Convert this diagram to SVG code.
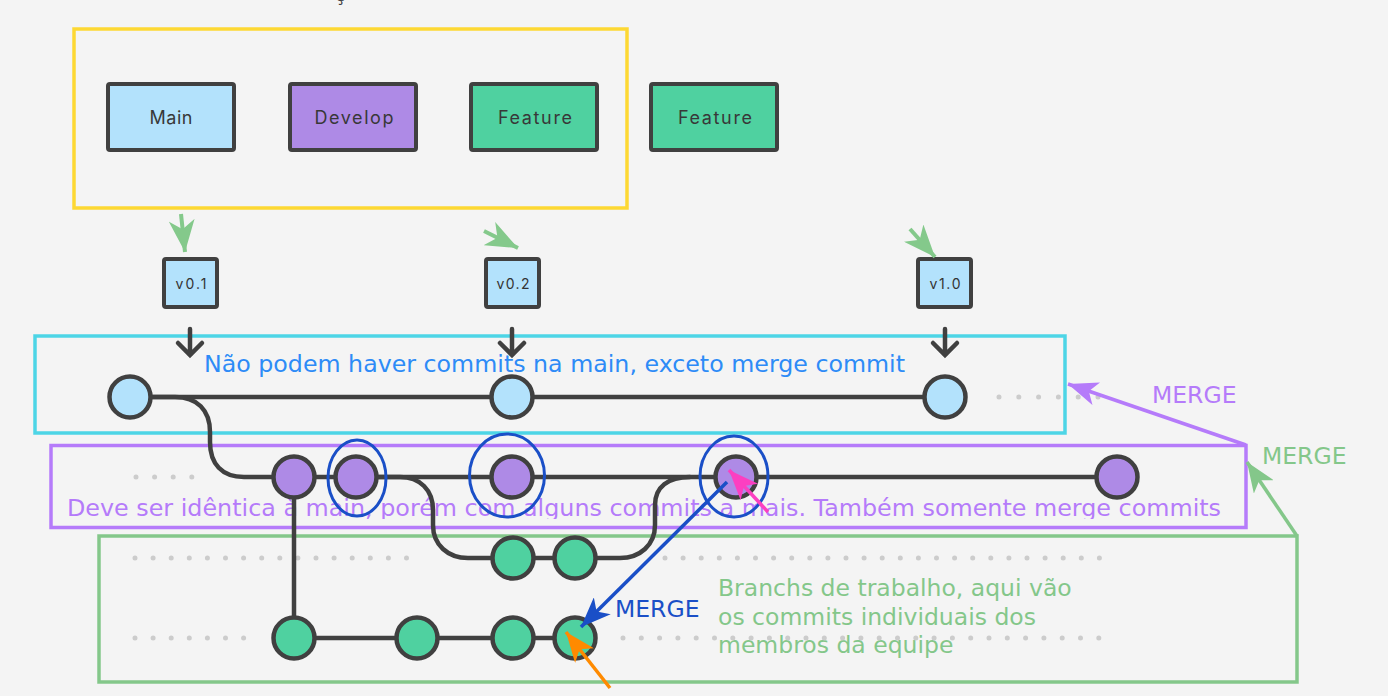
<svg xmlns="http://www.w3.org/2000/svg" width="1388" height="696" viewBox="0 0 1388 696">
<defs>
<style>
.bg{fill:#f4f4f4}
.frame{fill:none;stroke-width:3.5}
.br{stroke:#404040;stroke-width:4;}
.lbl{font-family:Inter,"Noto Sans","Liberation Sans",sans-serif;font-size:18px;fill:#383838;text-anchor:middle}
.ver{font-family:Inter,"Noto Sans","Liberation Sans",sans-serif;font-size:14px;fill:#333;text-anchor:middle}
.note{font-family:"DejaVu Sans",Verdana,sans-serif;font-size:23.5px}
.edge{fill:none;stroke:#404040;stroke-width:4.5;stroke-linecap:round}
.node{stroke:#404040;stroke-width:4.5}
.m{fill:#b3e2fc}.d{fill:#ae8ae6}.f{fill:#4fd1a0}
.dots{stroke:#cccccc;stroke-width:5;stroke-linecap:round;stroke-dasharray:0 18.1}
.ring{fill:none;stroke:#1a4fc7;stroke-width:3}
</style>
<marker id="hP" viewBox="0 0 30 24" refX="30" refY="12" markerWidth="30" markerHeight="24" markerUnits="userSpaceOnUse" orient="auto"><path d="M0,0 L30,12 L0,24 L8,12 Z" fill="#b57bfa"/></marker>
<marker id="hG" viewBox="0 0 30 24" refX="30" refY="12" markerWidth="30" markerHeight="24" markerUnits="userSpaceOnUse" orient="auto"><path d="M0,0 L30,12 L0,24 L8,12 Z" fill="#84c78a"/></marker>
<marker id="hB" viewBox="0 0 30 24" refX="30" refY="12" markerWidth="30" markerHeight="24" markerUnits="userSpaceOnUse" orient="auto"><path d="M0,0 L30,12 L0,24 L8,12 Z" fill="#1a4fc7"/></marker>
<marker id="hK" viewBox="0 0 30 24" refX="30" refY="12" markerWidth="30" markerHeight="24" markerUnits="userSpaceOnUse" orient="auto"><path d="M0,0 L30,12 L0,24 L8,12 Z" fill="#fc3fc1"/></marker>
<marker id="hO" viewBox="0 0 30 24" refX="30" refY="12" markerWidth="30" markerHeight="24" markerUnits="userSpaceOnUse" orient="auto"><path d="M0,0 L30,12 L0,24 L8,12 Z" fill="#ff8a00"/></marker>
<marker id="hV" viewBox="0 0 32 26" refX="32" refY="13" markerWidth="32" markerHeight="26" markerUnits="userSpaceOnUse" orient="auto"><path d="M0,0 L32,13 L0,26 L9,13 Z" fill="#84c98b"/></marker>
<clipPath id="clipC"><rect x="0" y="0" width="1388" height="377"/></clipPath>
<clipPath id="clipP"><rect x="0" y="0" width="1388" height="519"/></clipPath>
</defs>
<rect class="bg" x="0" y="0" width="1388" height="696"/>
<text x="340" y="1" font-family="'DejaVu Sans',sans-serif" font-size="18" fill="#404040" text-anchor="middle">ç</text>

<g id="branch-legend">
<rect class="frame" x="74" y="29" width="553" height="179" stroke="#fdd833"/>
<g id="legend-main"><rect class="br m" x="108" y="84" width="126" height="66" rx="2"/><text class="lbl" x="171" y="124" textLength="43" lengthAdjust="spacing">Main</text></g>
<g id="legend-develop"><rect class="br d" x="290" y="84" width="126" height="66" rx="2"/><text class="lbl" x="354" y="124" textLength="79" lengthAdjust="spacing">Develop</text></g>
<g id="legend-feature"><rect class="br f" x="471" y="84" width="126" height="66" rx="2"/><text class="lbl" x="535" y="124" textLength="74" lengthAdjust="spacing">Feature</text></g>
</g>
<g id="legend-feature2"><rect class="br f" x="651" y="84" width="126" height="66" rx="2"/><text class="lbl" x="715" y="124" textLength="74" lengthAdjust="spacing">Feature</text></g>

<g id="tags">
<g id="tag-v01"><rect class="br m" x="164" y="259" width="53" height="48" rx="2"/><text class="ver" x="191" y="289" textLength="31" lengthAdjust="spacing">v0.1</text></g>
<g id="tag-v02"><rect class="br m" x="486" y="259" width="53" height="48" rx="2"/><text class="ver" x="513" y="289" textLength="33" lengthAdjust="spacing">v0.2</text></g>
<g id="tag-v10"><rect class="br m" x="918" y="259" width="53" height="48" rx="2"/><text class="ver" x="945" y="289" textLength="31" lengthAdjust="spacing">v1.0</text></g>
</g>

<g id="zone-main">
<rect class="frame" x="35" y="336" width="1030" height="97" stroke="#4dd5e6"/>
<text class="note" x="204" y="372" fill="#2d8bf7" textLength="701" lengthAdjust="spacingAndGlyphs" clip-path="url(#clipC)">Não podem haver commits na main, exceto merge commit</text>
</g>
<g id="zone-develop">
<rect class="frame" x="51" y="445.5" width="1195" height="82" stroke="#b57bfa"/>
<text class="note" x="67" y="516" fill="#b57bfa" textLength="1154" lengthAdjust="spacingAndGlyphs" clip-path="url(#clipP)">Deve ser idêntica à main, porém com alguns commits a mais. Também somente merge commits</text>
</g>
<g id="zone-feature">
<rect class="frame" x="99" y="536" width="1198" height="146" stroke="#84c78a"/>
<text class="note" fill="#84c78a"><tspan x="718" y="596">Branchs de trabalho, aqui vão</tspan><tspan x="718" y="625">os commits individuais dos</tspan><tspan x="718" y="653">membros da equipe</tspan></text>
</g>

<g id="dotted">
<line class="dots" x1="999" y1="397" x2="1100" y2="397" style="stroke-dasharray:0 19.8"/>
<line class="dots" x1="136" y1="477" x2="193" y2="477" style="stroke-dasharray:0 18.6"/>
<line class="dots" x1="135" y1="558" x2="424" y2="558"/>
<line class="dots" x1="665" y1="558" x2="1100" y2="558"/>
<line class="dots" x1="135" y1="638" x2="244" y2="638"/>
<line class="dots" x1="623" y1="638" x2="1100" y2="638" style="stroke-dasharray:0 18.3"/>
</g>

<g id="connectors">
<line class="edge" x1="130" y1="397" x2="945" y2="397"/>
<path class="edge" d="M150,397 H175 C197,397 210,410 210,432 V442 C210,464 222,477 244,477 H294"/>
<line class="edge" x1="294" y1="477" x2="1117" y2="477"/>
<line class="edge" x1="294" y1="477" x2="294" y2="638"/>
<path class="edge" d="M378,477 H400 C420,477 433,490 433,510 V525 C433,545 448,558 468,558 H491"/>
<line class="edge" x1="513" y1="558" x2="575" y2="558"/>
<path class="edge" d="M597,558 H620 C640,558 655,545 655,525 V505 C655,487 668,477 690,477"/>
<line class="edge" x1="294" y1="638" x2="575" y2="638"/>
<path class="edge" d="M190,329 V355 M178,343 L190,355 L202,343"/>
<path class="edge" d="M512,329 V355 M500,343 L512,355 L524,343"/>
<path class="edge" d="M945,329 V355 M933,343 L945,355 L957,343"/>
<line x1="181" y1="214" x2="185" y2="252" stroke="#84c98b" stroke-width="4" marker-end="url(#hV)"/>
<line x1="484" y1="231" x2="518" y2="248" stroke="#84c98b" stroke-width="4" marker-end="url(#hV)"/>
<line x1="910" y1="229" x2="935" y2="257" stroke="#84c98b" stroke-width="4" marker-end="url(#hV)"/>
</g>

<g id="commits">
<g id="c-main-1"><circle class="node m" cx="130" cy="397" r="20.5"/></g>
<g id="c-main-2"><circle class="node m" cx="512" cy="397" r="20.5"/></g>
<g id="c-main-3"><circle class="node m" cx="945" cy="397" r="20.5"/></g>
<g id="c-dev-1"><circle class="node d" cx="294" cy="477" r="20.5"/></g>
<g id="c-dev-2"><circle class="node d" cx="356" cy="477" r="20.5"/></g>
<g id="c-dev-3"><circle class="node d" cx="512" cy="477" r="20.5"/></g>
<g id="c-dev-4"><circle class="node d" cx="736" cy="477" r="20.5"/></g>
<g id="c-dev-5"><circle class="node d" cx="1117" cy="477" r="20.5"/></g>
<g id="c-feat-1"><circle class="node f" cx="513" cy="558" r="20.5"/></g>
<g id="c-feat-2"><circle class="node f" cx="575" cy="558" r="20.5"/></g>
<g id="c-feat-3"><circle class="node f" cx="294" cy="638" r="20.5"/></g>
<g id="c-feat-4"><circle class="node f" cx="417" cy="638" r="20.5"/></g>
<g id="c-feat-5"><circle class="node f" cx="513" cy="638" r="20.5"/></g>
<g id="c-feat-6"><circle class="node f" cx="575" cy="638" r="20.5"/></g>
</g>

<g id="highlights">
<ellipse class="ring" cx="357" cy="478" rx="29" ry="38"/>
<ellipse class="ring" cx="507" cy="475.5" rx="37.5" ry="41.5"/>
<ellipse class="ring" cx="734" cy="476.5" rx="34" ry="40.5"/>
</g>

<g id="merge-arrows">
<line x1="1246" y1="445" x2="1068" y2="384" stroke="#b57bfa" stroke-width="3.5" marker-end="url(#hP)"/>
<line x1="1297" y1="536" x2="1247" y2="462" stroke="#84c78a" stroke-width="3.5" marker-end="url(#hG)"/>
<line x1="727" y1="482" x2="581" y2="627" stroke="#1a4fc7" stroke-width="3.5" marker-end="url(#hB)"/>
<line x1="768" y1="512" x2="729" y2="470" stroke="#fc3fc1" stroke-width="3.5" marker-end="url(#hK)"/>
<line x1="610" y1="688" x2="566" y2="632" stroke="#ff8a00" stroke-width="3.5" marker-end="url(#hO)"/>
<text class="note" x="1152" y="403" fill="#b57bfa">MERGE</text>
<text class="note" x="1262" y="464" fill="#84c78a">MERGE</text>
<text class="note" x="615" y="617" fill="#1a4fc7">MERGE</text>
</g>
</svg>
